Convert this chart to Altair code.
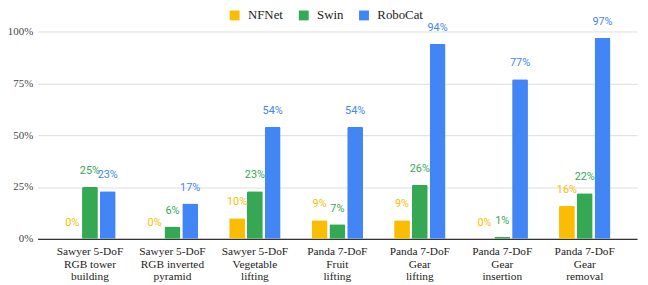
import altair as alt
import pandas as pd

categories = [
    "Sawyer 5-DoF\nRGB tower\nbuilding",
    "Sawyer 5-DoF\nRGB inverted\npyramid",
    "Sawyer 5-DoF\nVegetable\nlifting",
    "Panda 7-DoF\nFruit\nlifting",
    "Panda 7-DoF\nGear\nlifting",
    "Panda 7-DoF\nGear\ninsertion",
    "Panda 7-DoF\nGear\nremoval",
]
series = ["NFNet", "Swin", "RoboCat"]
nfnet = [0, 0, 10, 9, 9, 0, 16]
swin = [25, 6, 23, 7, 26, 1, 22]
robocat = [23, 17, 54, 54, 94, 77, 97]
colors = ["#FBBC04", "#34A853", "#4285F4"]
y_ticks = [0, 25, 50, 75, 100]

rows = []
for name, vals in zip(series, [nfnet, swin, robocat]):
    for c, v in zip(categories, vals):
        rows.append({"task": c, "model": name, "value": v, "label": f"{v}%"})
df = pd.DataFrame(rows)

serif = "Liberation Serif"

x = alt.X(
    "task:N",
    sort=categories,
    scale=alt.Scale(paddingInner=0.377, paddingOuter=0.323),
    axis=alt.Axis(
        title=None,
        labelAngle=0,
        labelExpr="split(datum.label, '\\n')",
        labelFont=serif,
        labelFontSize=11.5,
        labelColor="#222222",
        labelLineHeight=12.5,
        labelPadding=7,
        ticks=False,
        domainColor="#333333",
        domainWidth=1.2,
        grid=False,
        labelLimit=200,
    ),
)
xoff = alt.XOffset(
    "model:N", sort=series, scale=alt.Scale(paddingInner=0.11, paddingOuter=0)
)
y = alt.Y(
    "value:Q",
    scale=alt.Scale(domain=[0, 100], nice=False),
    axis=alt.Axis(
        title=None,
        values=y_ticks,
        labelExpr="datum.value + '%'",
        labelFont=serif,
        labelFontSize=11,
        labelColor="#444444",
        labelPadding=5,
        ticks=False,
        domain=False,
        gridColor="#dddddd",
        gridWidth=1,
    ),
)
color = alt.Color(
    "model:N",
    sort=series,
    scale=alt.Scale(domain=series, range=colors),
    legend=alt.Legend(
        title=None,
        orient="none",
        direction="horizontal",
        legendX=193,
        legendY=-23,
        symbolType="square",
        symbolSize=100,
        symbolStrokeWidth=0,
        labelFont=serif,
        labelFontSize=13,
        labelColor="#222222",
        labelOffset=7,
        columnPadding=14,
    ),
)

bars = alt.Chart(df).mark_bar(cornerRadiusTopLeft=1.5, cornerRadiusTopRight=1.5).encode(
    x=x, xOffset=xoff, y=y, color=color
)
texts = alt.Chart(df).mark_text(font="Roboto", fontSize=11, baseline="middle", dy=-16).encode(
    x=alt.X("task:N", sort=categories),
    xOffset=alt.XOffset("model:N", sort=series),
    y=alt.Y("value:Q"),
    text="label:N",
    color=alt.Color("model:N", sort=series, legend=None),
)

chart = (
    alt.layer(bars, texts)
    .properties(
        width=607,
        height=210,
        autosize=alt.AutoSizeParams(type="none"),
        padding={"left": 30, "top": 22, "right": 3, "bottom": 50},
        background="white",
    )
    .configure_view(stroke=None)
)
chart.save("out.html", embed_options={"renderer": "svg", "actions": False})
